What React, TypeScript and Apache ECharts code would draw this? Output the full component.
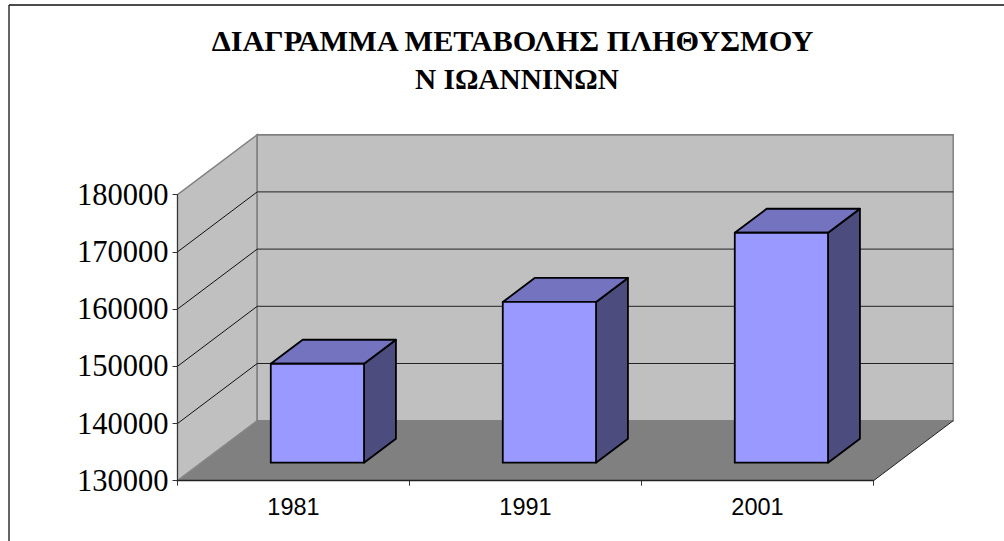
import React, { useEffect, useRef } from "react";
import * as echarts from "echarts";

const titleLines = ["ΔΙΑΓΡΑΜΜΑ ΜΕΤΑΒΟΛΗΣ ΠΛΗΘΥΣΜΟΥ", "Ν ΙΩΑΝΝΙΝΩΝ"];
const years = ["1981", "1991", "2001"];
const population = [147300, 158100, 170200];
const gridTicks = [140000, 150000, 160000, 170000, 180000];
const yMin = 130000;
const yMax = 180000;
const yStep = 10000;

const DX = 79.7;
const DY = -60;
const BAR_START = 0.3;
const BAR_DEPTH = 0.4;
const BAR_WIDTH = 0.402;

const WALL = "#C0C0C0";
const EDGE = "#808080";

function walls(params: any, api: any) {
  const c = params.coordSys;
  const l = c.x, r = c.x + c.width, t = c.y, b = c.y + c.height;
  const style = (fill: string) => ({ fill, stroke: EDGE, lineWidth: 1.5 });
  return {
    type: "group",
    children: [
      { type: "polygon", shape: { points: [[l, b], [l, t], [l + DX, t + DY], [l + DX, b + DY]] }, style: style(WALL) },
      { type: "polygon", shape: { points: [[l + DX, b + DY], [l + DX, t + DY], [r + DX, t + DY], [r + DX, b + DY]] }, style: style(WALL) },
      { type: "polygon", shape: { points: [[l, b], [l + DX, b + DY], [r + DX, b + DY], [r, b]] }, style: { fill: EDGE, stroke: "none" } },
      { type: "line", shape: { x1: r, y1: b, x2: r + DX, y2: b + DY }, style: { stroke: "#222", lineWidth: 1 } },
      { type: "line", shape: { x1: l, y1: b, x2: l + DX, y2: b + DY }, style: { stroke: "#8a8a8a", lineWidth: 1 } },
    ],
  };
}

function gridLine(params: any, api: any) {
  const c = params.coordSys;
  const y = api.coord([0, api.value(0)])[1];
  const l = c.x, r = c.x + c.width;
  const isTop = api.value(0) === yMax;
  return {
    type: "group",
    children: [
      ...(isTop ? [] : [{ type: "line", shape: { x1: l, y1: y, x2: l + DX, y2: y + DY }, style: { stroke: "#111", lineWidth: 1 } }]),
      { type: "line", shape: { x1: l + DX, y1: y + DY, x2: r + DX, y2: y + DY }, style: isTop ? { stroke: EDGE, lineWidth: 1.5 } : { stroke: "#222", lineWidth: 1 } },
    ],
  };
}

function bar3d(params: any, api: any) {
  const cat = api.value(0);
  const top = api.coord([cat, api.value(1)]);
  const base = api.coord([cat, yMin]);
  const band = api.size([1, 0])[0];
  const w = band * BAR_WIDTH;
  const ox = DX * BAR_START, oy = DY * BAR_START;
  const dx = DX * BAR_DEPTH, dy = DY * BAR_DEPTH;
  const x0 = base[0] - w / 2 + ox, x1 = x0 + w;
  const yb = base[1] + oy, yt = top[1] + oy;
  const style = (fill: string) => ({ fill, stroke: "#000", lineWidth: 1.8, lineJoin: "round" });
  return {
    type: "group",
    children: [
      { type: "polygon", shape: { points: [[x1, yb], [x1 + dx, yb + dy], [x1 + dx, yt + dy], [x1, yt]] }, style: style("#4C4C7F") },
      { type: "polygon", shape: { points: [[x0, yt], [x1, yt], [x1 + dx, yt + dy], [x0 + dx, yt + dy]] }, style: style("#7373BF") },
      { type: "polygon", shape: { points: [[x0, yb], [x1, yb], [x1, yt], [x0, yt]] }, style: style("#9999FF") },
    ],
  };
}

export default function App() {
  const ref = useRef<HTMLDivElement>(null);
  useEffect(() => {
    const chart = echarts.init(ref.current!, null, { renderer: "svg" });
    const titleStyle = {
      fontFamily: "Liberation Serif",
      fontWeight: "bold" as const,
      fontSize: 30.3,
      color: "#000",
    };
    chart.setOption({
      animation: false,
      backgroundColor: "#fff",
      title: [
        { text: titleLines[0], left: 507.5, top: 21, textAlign: "center", textStyle: titleStyle },
        { text: titleLines[1], left: 512, top: 59, textAlign: "center", textStyle: { ...titleStyle, fontSize: 29.3 } },
      ],
      grid: { left: 177.5, top: 194.7, width: 696, height: 286 },
      xAxis: {
        type: "category",
        data: years,
        z: 5,
        axisLine: { lineStyle: { color: "#222", width: 1.3 } },
        axisTick: { show: true, length: 5, lineStyle: { color: "#333" } },
        axisLabel: { fontFamily: "Liberation Sans", fontSize: 23.5, color: "#000", margin: 14 },
      },
      yAxis: {
        type: "value",
        min: yMin,
        max: yMax,
        interval: yStep,
        z: 5,
        axisLine: { show: true, lineStyle: { color: "#333", width: 1 } },
        axisTick: { show: true, length: 5, lineStyle: { color: "#333" } },
        axisLabel: { fontFamily: "Liberation Serif", fontSize: 30.5, color: "#000", margin: 9, formatter: (v: number) => String(v) },
        splitLine: { show: false },
      },
      graphic: [
        { type: "line", shape: { x1: 9, y1: 5, x2: 1004, y2: 5 }, style: { stroke: "#111", lineWidth: 1.3 } },
        { type: "line", shape: { x1: 9, y1: 5, x2: 9, y2: 541 }, style: { stroke: "#111", lineWidth: 1.3 } },
      ],
      series: [
        { type: "custom", coordinateSystem: "cartesian2d", silent: true, z: 1, renderItem: walls, data: [[0]], encode: { x: 0 } },
        { type: "custom", coordinateSystem: "cartesian2d", silent: true, z: 2, renderItem: gridLine, data: gridTicks.map((v) => [v]), encode: { y: 0 } },
        { type: "custom", coordinateSystem: "cartesian2d", silent: true, z: 3, renderItem: bar3d, data: population.map((v, i) => [i, v]), encode: { x: 0, y: 1 } },
      ],
    });
    return () => chart.dispose();
  }, []);
  return <div ref={ref} style={{ position: "fixed", left: 0, top: 0, width: 1004, height: 541 }} />;
}
